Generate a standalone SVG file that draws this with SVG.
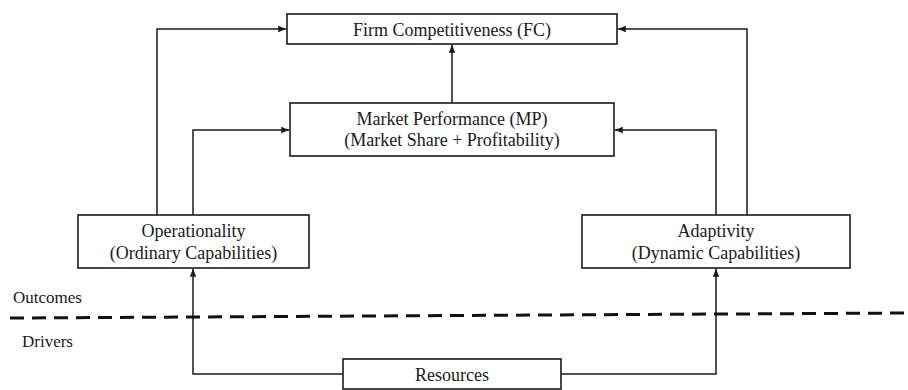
<svg xmlns="http://www.w3.org/2000/svg" width="908" height="390" viewBox="0 0 908 390">
<style>
.box{fill:#fff;stroke:#1a1a1a;stroke-width:1.6}
.t{font-size:18px;fill:#1a1a1a;text-anchor:middle}
.lbl{font-size:17px;fill:#1a1a1a}
.c{fill:none;stroke:#1a1a1a;stroke-width:1.5}
</style>
<defs>
<marker id="ah" viewBox="0 0 8 8" refX="8" refY="4" markerWidth="8" markerHeight="8" markerUnits="userSpaceOnUse" orient="auto">
<path d="M0,0.8 L8,4 L0,7.2 Z" fill="#1a1a1a"/>
</marker>
</defs>
<rect width="908" height="390" fill="#fff"/>
<g id="connectors">
<path class="c" d="M452,103 V44.8" marker-end="url(#ah)"/>
<path class="c" d="M157,215 V29 H286.2" marker-end="url(#ah)"/>
<path class="c" d="M193,215 V130 H289.2" marker-end="url(#ah)"/>
<path class="c" d="M747,215 V29 H617.8" marker-end="url(#ah)"/>
<path class="c" d="M716,215 V130 H614.8" marker-end="url(#ah)"/>
<path class="c" d="M343,374 H193 V268.8" marker-end="url(#ah)"/>
<path class="c" d="M561,374 H716 V268.8" marker-end="url(#ah)"/>
</g>
<g font-family="Liberation Serif, Times New Roman, serif">
<g id="divider">
<line x1="10" y1="318" x2="908" y2="313" stroke="#111" stroke-width="3" stroke-dasharray="14 8"/>
<text class="lbl" x="13" y="303">Outcomes</text>
<text class="lbl" x="22" y="347">Drivers</text>
</g>
<g id="fc">
<rect class="box" x="287" y="14" width="330" height="30"/>
<text class="t" x="452" y="36">Firm Competitiveness (FC)</text>
</g>
<g id="mp">
<rect class="box" x="290" y="103" width="324" height="53"/>
<text class="t" x="452" y="125">Market Performance (MP)</text>
<text class="t" x="452" y="146">(Market Share + Profitability)</text>
</g>
<g id="operationality">
<rect class="box" x="78" y="215" width="231" height="53"/>
<text class="t" x="193.5" y="237">Operationality</text>
<text class="t" x="193.5" y="259">(Ordinary Capabilities)</text>
</g>
<g id="adaptivity">
<rect class="box" x="582" y="215" width="268" height="53"/>
<text class="t" x="716" y="237">Adaptivity</text>
<text class="t" x="716" y="259">(Dynamic Capabilities)</text>
</g>
<g id="resources">
<rect class="box" x="343" y="359" width="218" height="30"/>
<text class="t" x="452" y="381">Resources</text>
</g>
</g>
</svg>
